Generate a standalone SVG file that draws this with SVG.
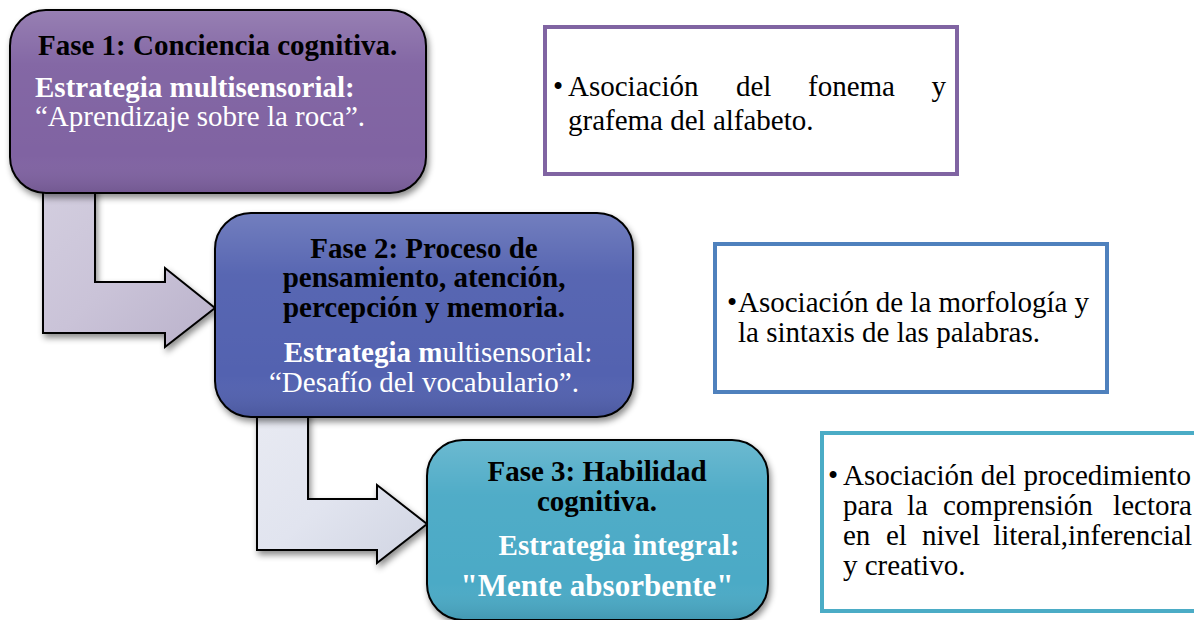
<svg xmlns="http://www.w3.org/2000/svg" width="1194" height="620" viewBox="0 0 1194 620">
<defs>
  <filter id="shadow" x="-10%" y="-10%" width="120%" height="130%">
    <feDropShadow dx="2" dy="4" stdDeviation="3" flood-color="#000" flood-opacity="0.45"/>
  </filter>
  <filter id="soft" x="-50%" y="-10%" width="200%" height="120%">
    <feGaussianBlur stdDeviation="1.2"/>
  </filter>
  <linearGradient id="gloss" x1="0" y1="0" x2="0" y2="1">
    <stop offset="0" stop-color="#fff" stop-opacity="0.18"/>
    <stop offset="0.3" stop-color="#fff" stop-opacity="0.03"/>
    <stop offset="0.8" stop-color="#fff" stop-opacity="0"/>
    <stop offset="1" stop-color="#000" stop-opacity="0.1"/>
  </linearGradient>
  <linearGradient id="arrow1" x1="0" y1="0" x2="1" y2="1">
    <stop offset="0" stop-color="#D3CEDF"/>
    <stop offset="0.5" stop-color="#CAC3D8"/>
    <stop offset="1" stop-color="#BAB2CB"/>
  </linearGradient>
  <linearGradient id="arrow2" x1="0" y1="0" x2="1" y2="1">
    <stop offset="0" stop-color="#E8EAF2"/>
    <stop offset="0.5" stop-color="#E1E4EF"/>
    <stop offset="1" stop-color="#D0D4E2"/>
  </linearGradient>
  <style>
    .phase{stroke:#000;stroke-width:2;filter:url(#shadow)}
    .gl{fill:url(#gloss);stroke:none}
    .hl{stroke:#fff;stroke-width:4;stroke-linecap:round;stroke-opacity:0.6;fill:none;filter:url(#soft)}
    .arrow{stroke:#000;stroke-width:2;stroke-linejoin:miter;filter:url(#shadow)}
    .t{font-family:"Liberation Serif","Times New Roman",serif;font-size:29px}
    .b{font-weight:bold}
    .k{fill:#000}
    .w{fill:#fff}
    .side{fill:#fff;stroke-width:4}
    .r{font-family:"Liberation Serif","Times New Roman",serif;font-size:29px;fill:#000}
  </style>
</defs>
<rect width="1194" height="620" fill="#fff"/>

<g id="connectors">
  <path class="arrow" fill="url(#arrow1)" d="M43,185 L95,185 L95,282 L165,282 L165,268 L215,308 L165,347 L165,333 L43,333 Z"/>
  <path class="arrow" fill="url(#arrow2)" d="M257,410 L308,410 L308,499 L377,499 L377,485 L427,524 L377,563 L377,550 L257,550 Z"/>
</g>

<g id="phase1">
  <rect class="phase" x="10" y="10" width="416" height="183" rx="36" fill="#8064A2"/>
  <rect class="gl" x="11" y="11" width="414" height="181" rx="35"/>
  <line class="hl" x1="24" y1="38" x2="24" y2="165"/>
  <line class="hl" x1="412" y1="38" x2="412" y2="165"/>
  <text class="t b k" x="38" y="55">Fase 1: Conciencia cognitiva.</text>
  <text class="t b w" x="35" y="97">Estrategia multisensorial:</text>
  <text class="t w" x="35" y="126">“Aprendizaje sobre la roca”.</text>
</g>

<g id="phase2">
  <rect class="phase" x="215" y="213" width="418" height="204" rx="36" fill="#5262B0"/>
  <rect class="gl" x="216" y="214" width="416" height="202" rx="35"/>
  <line class="hl" x1="229" y1="243" x2="229" y2="390"/>
  <line class="hl" x1="619" y1="243" x2="619" y2="390"/>
  <text class="t b k" x="424" y="258" text-anchor="middle">Fase 2: Proceso de</text>
  <text class="t b k" x="424" y="287" text-anchor="middle">pensamiento, atención,</text>
  <text class="t b k" x="424" y="317" text-anchor="middle">percepción y memoria.</text>
  <text class="t w" x="438" y="362" text-anchor="middle"><tspan class="b">Estrategia m</tspan>ultisensorial:</text>
  <text class="t w" x="424" y="392" text-anchor="middle">“Desafío del vocabulario”.</text>
</g>

<g id="phase3">
  <rect class="phase" x="427" y="440" width="341" height="180" rx="36" fill="#4BAAC6"/>
  <rect class="gl" x="428" y="441" width="339" height="178" rx="35"/>
  <line class="hl" x1="441" y1="470" x2="441" y2="600"/>
  <line class="hl" x1="754" y1="470" x2="754" y2="600"/>
  <text class="t b k" x="597" y="481" text-anchor="middle">Fase 3: Habilidad</text>
  <text class="t b k" x="597" y="511" text-anchor="middle">cognitiva.</text>
  <text class="t b w" x="619" y="555" text-anchor="middle">Estrategia integral:</text>
  <text class="t b w" x="597" y="596" text-anchor="middle" style="font-size:31px">"Mente absorbente"</text>
</g>

<g id="detail1">
  <rect class="side" x="545" y="27" width="412" height="147" stroke="#8064A2"/>
  <text class="r" x="553" y="96">•</text>
  <text class="r" y="96"><tspan x="568">Asociación</tspan><tspan x="736">del</tspan><tspan x="808">fonema</tspan></text>
  <text class="r" x="946" y="96" text-anchor="end">y</text>
  <text class="r" x="568" y="130">grafema del alfabeto.</text>
</g>

<g id="detail2">
  <rect class="side" x="715" y="244" width="392" height="148" stroke="#4F81BD"/>
  <text class="r" x="727" y="312">•</text>
  <text class="r" x="738" y="312">Asociación de la morfología y</text>
  <text class="r" x="738" y="342">la sintaxis de las palabras.</text>
</g>

<g id="detail3">
  <rect class="side" x="822" y="433" width="390" height="178" stroke="#4BACC6"/>
  <text class="r" x="828" y="485">•</text>
  <text class="r" x="843" y="485">Asociación del procedimiento</text>
  <text class="r" y="515"><tspan x="843">para</tspan><tspan x="907">la</tspan><tspan x="943">comprensión</tspan></text>
  <text class="r" x="1192" y="515" text-anchor="end">lectora</text>
  <text class="r" y="545"><tspan x="843">en</tspan><tspan x="886">el</tspan><tspan x="922">nivel</tspan></text>
  <text class="r" x="1192" y="545" text-anchor="end">literal,inferencial</text>
  <text class="r" x="843" y="575">y creativo.</text>
</g>
</svg>
